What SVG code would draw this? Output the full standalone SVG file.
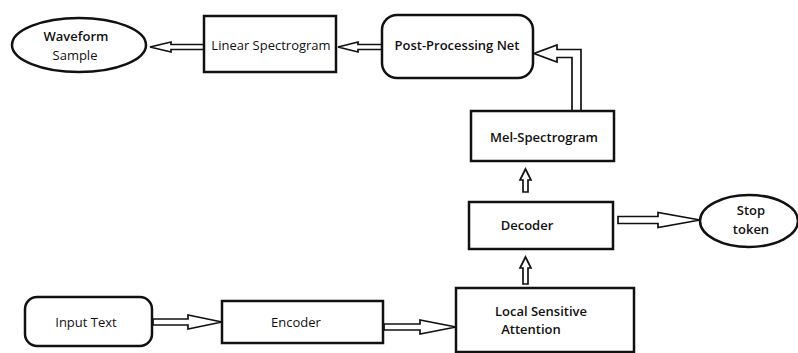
<svg xmlns="http://www.w3.org/2000/svg" width="798" height="353" viewBox="0 0 798 353">
<style>
.box{fill:#fff;stroke:#111;stroke-width:2.5}
.arr{fill:#fff;stroke:#111;stroke-width:1.7;stroke-linejoin:miter}
.t{font-family:"Open Sans","Liberation Sans",sans-serif;font-size:13px;fill:#111;text-anchor:middle}
.b{font-weight:600}
</style>
<rect width="798" height="353" fill="#fff"/>
<g id="connectors">
<polygon class="arr" points="204,44.5 171,44.5 171,42 150,47 171,52 171,49.5 204,49.5"/>
<polygon class="arr" points="382,44.5 358,44.5 358,42 338,47 358,52 358,49.5 382,49.5"/>
<path class="arr" d="M572,111 L572,57.5 L557,57.5 L557,62 L534,53.5 L557,45 L557,49.5 L581,49.5 L581,111"/>
<polygon class="arr" points="523,192 523,180 520,180 525.5,169 531,180 528,180 528,192"/>
<polygon class="arr" points="523,284 523,268 520,268 525.5,257 531,268 528,268 528,284"/>
<polygon class="arr" points="618,216.5 658,216.5 658,212.5 700,220 658,227.5 658,223.5 618,223.5"/>
<polygon class="arr" points="153,319 188,319 188,315 222,322 188,329 188,325 153,325"/>
<polygon class="arr" points="384,324 420,324 420,320 456,327 420,334 420,330 384,330"/>
</g>
<g id="waveform">
<ellipse class="box" cx="79" cy="45" rx="67" ry="27"/>
<text class="t b" x="76" y="41">Waveform</text>
<text class="t" x="75" y="60">Sample</text>
</g>
<g id="linear">
<rect class="box" x="204" y="16" width="132" height="56"/>
<text class="t" x="271" y="49.5">Linear Spectrogram</text>
</g>
<g id="postnet">
<rect class="box" x="382" y="15" width="151" height="63" rx="15"/>
<text class="t b" x="457" y="49.5">Post-Processing Net</text>
</g>
<g id="mel">
<rect class="box" x="471" y="111" width="143" height="50"/>
<text class="t b" x="544" y="141.5">Mel-Spectrogram</text>
</g>
<g id="decoder">
<rect class="box" x="469" y="202" width="144" height="47"/>
<text class="t b" x="527" y="229.5">Decoder</text>
</g>
<g id="stop">
<ellipse class="box" cx="749" cy="221" rx="49" ry="26"/>
<text class="t b" x="751" y="215">Stop</text>
<text class="t b" x="751" y="234">token</text>
</g>
<g id="input">
<rect class="box" x="25" y="297" width="127" height="49" rx="12"/>
<text class="t" x="86" y="326.5">Input Text</text>
</g>
<g id="encoder">
<rect class="box" x="222" y="301" width="161" height="42"/>
<text class="t" x="296" y="326.5">Encoder</text>
</g>
<g id="lsa">
<rect class="box" x="456" y="288" width="178" height="64"/>
<text class="t b" x="541" y="316">Local Sensitive</text>
<text class="t b" x="531" y="334">Attention</text>
</g>
</svg>
